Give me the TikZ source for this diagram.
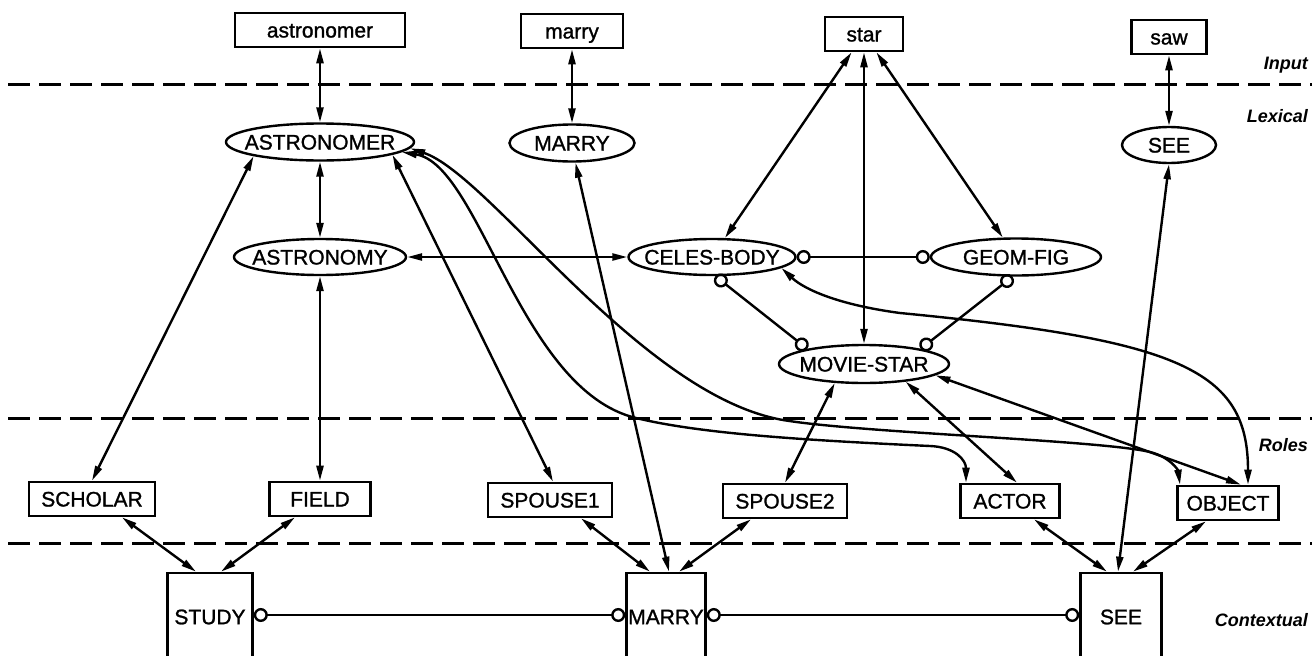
\documentclass[tikz,border=0pt]{standalone}
\usepackage{fontspec}
\setmainfont{Liberation Sans}
\newfontfamily\labelfont{Liberation Sans}[FakeBold=1.2]
\usetikzlibrary{arrows.meta,shapes.geometric}

\begin{document}
\begin{tikzpicture}[x=1pt,y=-1pt,
  line width=2.4pt,
  every node/.style={font=\labelfont\fontsize{21}{25}\selectfont},
  wordbox/.style={draw, line width=2.6pt, rectangle, inner sep=0pt, text height=15pt, text depth=0pt, minimum height=34pt},
  ctxbox/.style={draw, line width=2.6pt, rectangle, inner sep=0pt, minimum height=88pt},
  concept/.style={draw, line width=2.4pt, ellipse, inner sep=0pt, text height=15pt, text depth=0pt},
  layer/.style={font=\fontsize{18}{22}\selectfont\bfseries\itshape, anchor=east, inner sep=0pt, text height=13pt, text depth=0pt},
  sep/.style={line width=3pt, dash pattern=on 22pt off 9pt},
  link/.style={{Triangle[length=15pt,width=7pt]}-{Triangle[length=15pt,width=7pt]}},
  inhib/.style={{Circle[open,length=14pt,width=14pt]}-{Circle[open,length=14pt,width=14pt]}},
]
\path[use as bounding box, clip] (0,0) rectangle (1312,656);
\fill[white] (0,0) rectangle (1312,656);

% layer separators
\draw[sep] (8,84) -- (1312,84);
\draw[sep] (8,418) -- (1312,418);
\draw[sep] (8,543) -- (1312,543);

% layer names
\node[layer] (lIn)  at (1309,63)  {Input};
\node[layer] (lLex) at (1309,116) {Lexical};
\node[layer] (lRol) at (1309,445) {Roles};
\node[layer] (lCtx) at (1309,620) {Contextual};

% input words
\node[wordbox, minimum width=170pt] (astronomerW) at (320,30) {astronomer};
\node[wordbox, minimum width=102pt] (marryW) at (572,31) {marry};
\node[wordbox, minimum width=78pt]  (starW) at (864,34) {star};
\node[wordbox, minimum width=75pt]  (sawW) at (1169,37) {saw};

% lexical concepts
\node[concept, minimum width=188pt, minimum height=37pt] (astronomerL) at (320,142) {\makebox[0pt]{ASTRONOMER}};
\node[concept, minimum width=125pt, minimum height=37pt] (marryL) at (572,143) {\makebox[0pt]{MARRY}};
\node[concept, minimum width=94pt, minimum height=36pt] (seeL) at (1169,145) {\makebox[0pt]{SEE}};
\node[concept, minimum width=172pt, minimum height=36pt] (astronomy) at (320,257) {\makebox[0pt]{ASTRONOMY}};
\node[concept, minimum width=167pt, minimum height=36pt] (celes) at (712,257) {\makebox[0pt]{CELES-BODY}};
\node[concept, minimum width=170pt, minimum height=37pt] (geom) at (1016,257) {\makebox[0pt]{GEOM-FIG}};
\node[concept, minimum width=170pt, minimum height=38pt] (movie) at (864,364) {\makebox[0pt]{MOVIE-STAR}};

% roles
\node[wordbox, minimum width=126pt] (scholar) at (92,499) {SCHOLAR};
\node[wordbox, minimum width=101pt] (field) at (320,499) {FIELD};
\node[wordbox, minimum width=124pt] (spouse1) at (550,500) {SPOUSE1};
\node[wordbox, minimum width=124pt] (spouse2) at (785,501) {SPOUSE2};
\node[wordbox, minimum width=99pt]  (actor) at (1010,501) {ACTOR};
\node[wordbox, minimum width=101pt] (object) at (1228,503) {OBJECT};

% contextual frames
\node[ctxbox, minimum width=85pt] (study) at (210,617) {STUDY};
\node[ctxbox, minimum width=79pt] (marryC) at (666,617) {MARRY};
\node[ctxbox, minimum width=81pt] (seeC) at (1121,617) {SEE};

% input <-> lexical
\draw[link] (astronomerW.south) -- (astronomerL.north);
\draw[link] (marryW.south) -- (marryL.north);
\draw[link] (starW) -- (celes);
\draw[link] (starW.south) -- (movie.north);
\draw[link] (starW) -- (geom);
\draw[link] (sawW.south) -- (seeL.north);

% lexical <-> lexical
\draw[link] (astronomerL.south) -- (astronomy.north);
\draw[link] (astronomy) -- (celes);
\draw[inhib] (celes) -- (geom);
\draw[inhib] (celes.-80) -- (movie.165);
\draw[inhib] (geom.-100) -- (movie.15);

% lexical <-> roles
\draw[link] (astronomerL.192) -- (scholar.north);
\draw[link] (astronomy.south) -- (field.north);
\draw[link] (astronomerL.-10) -- ([xshift=3pt]spouse1.north);
\draw[link] (astronomerL.-7) .. controls (480,165) and (520,390) .. (636,418)
  .. controls (700,433.5) and (800,440) .. (930,446)
  .. controls (955,447) and (966,460) .. ([xshift=-44pt]actor.north);
\draw[link] (astronomerL.-4) .. controls (490,175) and (640,395) .. (783,420)
  .. controls (860,433) and (1100,440) .. (1150,452)
  .. controls (1170,457) and (1178,470) .. ([xshift=-48pt]object.north);
\draw[link] (celes.-9) .. controls (805,290) and (840,305) .. (900,313)
  .. controls (1180,340) and (1248,370) .. ([xshift=20pt]object.north);
\draw[link] (movie.-147) -- (spouse2.north);
\draw[link] (movie.-23) -- ([xshift=7pt]actor.north);
\draw[link] (movie.-9) -- ([xshift=13pt]object.north);

% lexical <-> contextual
\draw[link] (marryL.-80) -- ([xshift=3pt]marryC.north);
\draw[link] (seeL.south) -- ([xshift=-3pt]seeC.north);

% roles <-> contextual
\draw[link] ([xshift=30pt]scholar.south) -- ([xshift=-14pt]study.north);
\draw[link] ([xshift=-25pt]field.south) -- ([xshift=11pt]study.north);
\draw[link] ([xshift=31pt]spouse1.south) -- ([xshift=-16pt]marryC.north);
\draw[link] ([xshift=-34pt]spouse2.south) -- ([xshift=13pt]marryC.north);
\draw[link] ([xshift=24pt]actor.south) -- ([xshift=-14pt]seeC.north);
\draw[link] ([xshift=-22pt]object.south) -- ([xshift=12pt]seeC.north);

% contextual <-> contextual
\draw[inhib] ([yshift=2pt]study.east) -- ([yshift=2pt]marryC.west);
\draw[inhib] ([yshift=2pt]marryC.east) -- ([yshift=2pt]seeC.west);
\end{tikzpicture}
\end{document}
